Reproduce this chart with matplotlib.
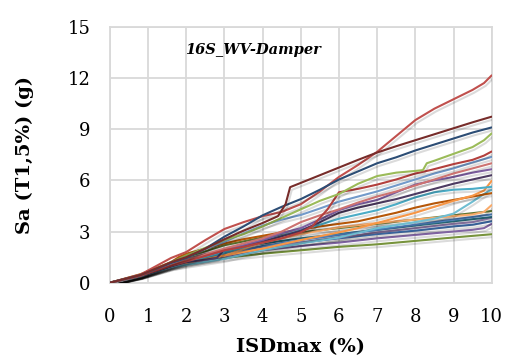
import matplotlib
matplotlib.use("Agg")
import matplotlib.pyplot as plt
import matplotlib.patheffects as pe

# ---- data ----
x_red = [0, 0.8, 1.6, 2.0, 2.5, 3.0, 3.5, 4.0, 4.5, 5.0, 5.5, 6.0, 6.5, 7.0, 7.5, 8.0, 8.5, 9.0, 9.5, 9.8, 10.0]
y_red = [0, 0.48, 1.45, 1.8, 2.5, 3.15, 3.55, 3.9, 4.15, 4.6, 5.35, 6.2, 6.9, 7.67, 8.6, 9.53, 10.2, 10.75, 11.3, 11.7, 12.15]

x_maroon = [0, 0.8, 1.6, 2.0, 2.5, 3.0, 3.5, 4.0, 4.4, 4.6, 4.72, 5.0, 5.5, 6.0, 6.5, 7.0, 7.5, 8.0, 8.5, 9.0, 9.5, 10.0]
y_maroon = [0, 0.45, 1.2, 1.5, 2.0, 2.55, 3.05, 3.5, 3.9, 4.6, 5.6, 5.85, 6.3, 6.75, 7.2, 7.63, 8.0, 8.35, 8.7, 9.05, 9.4, 9.73]

x_dkblue = [0, 0.8, 1.6, 2.0, 2.5, 3.0, 3.5, 4.0, 4.5, 5.0, 5.5, 6.0, 7.0, 7.5, 8.0, 8.5, 9.0, 9.5, 10.0]
y_dkblue = [0, 0.45, 1.15, 1.45, 2.0, 2.7, 3.3, 3.95, 4.45, 4.9, 5.45, 6.05, 7.0, 7.35, 7.75, 8.1, 8.45, 8.8, 9.1]

x_ltgreen = [0, 0.8, 1.6, 2.0, 2.5, 3.0, 3.5, 4.0, 4.5, 5.0, 5.5, 6.0, 6.5, 7.0, 7.5, 8.0, 8.2, 8.3, 8.5, 9.0, 9.5, 9.8, 10.0]
y_ltgreen = [0, 0.46, 1.2, 1.6, 2.05, 2.5, 2.85, 3.3, 3.8, 4.3, 4.8, 5.2, 5.8, 6.25, 6.45, 6.55, 6.6, 7.0, 7.15, 7.55, 7.95, 8.35, 8.75]

x_brick = [0, 0.8, 1.6, 2.0, 3.0, 3.5, 4.0, 4.5, 5.0, 5.3, 5.7, 6.0, 6.5, 7.0, 7.5, 8.0, 8.4, 9.0, 9.5, 9.8, 10.0]
y_brick = [0, 0.42, 1.0, 1.25, 1.9, 2.1, 2.35, 2.6, 2.95, 3.3, 4.3, 5.3, 5.5, 5.75, 6.05, 6.4, 6.6, 6.95, 7.2, 7.45, 7.69]

x_ltblue = [0, 0.8, 1.6, 2.0, 3.0, 3.5, 4.0, 4.5, 5.0, 5.5, 6.0, 6.5, 7.0, 7.5, 8.0, 8.5, 9.0, 9.5, 10.0]
y_ltblue = [0, 0.45, 1.15, 1.55, 2.4, 2.9, 3.35, 3.7, 3.97, 4.35, 4.75, 5.05, 5.35, 5.7, 6.05, 6.4, 6.7, 7.05, 7.37]

x_pink = [0, 0.8, 1.6, 2.0, 3.0, 4.0, 4.5, 5.0, 5.5, 6.0, 6.5, 7.0, 7.5, 8.0, 8.5, 9.0, 9.5, 10.0]
y_pink = [0, 0.42, 1.05, 1.35, 2.0, 2.6, 3.0, 3.55, 3.95, 4.3, 4.7, 5.05, 5.35, 5.7, 6.05, 6.4, 6.7, 7.0]

x_purple = [0, 0.8, 1.6, 2.0, 3.0, 4.0, 4.5, 5.0, 5.5, 6.0, 6.5, 7.0, 7.5, 8.0, 8.5, 9.0, 9.5, 10.0]
y_purple = [0, 0.42, 1.0, 1.3, 1.9, 2.5, 2.9, 3.2, 3.7, 4.25, 4.6, 4.85, 5.3, 5.75, 6.0, 6.2, 6.45, 6.65]

x_dkpurple = [0, 0.8, 1.6, 2.0, 2.5, 2.8, 3.0, 3.5, 4.0, 5.0, 5.5, 6.0, 6.5, 7.0, 7.5, 8.0, 8.5, 9.0, 9.5, 10.0]
y_dkpurple = [0, 0.4, 0.95, 1.2, 1.35, 1.45, 1.95, 2.15, 2.4, 3.05, 3.55, 4.1, 4.4, 4.65, 4.9, 5.2, 5.5, 5.8, 6.05, 6.3]

x_aqua = [0, 0.8, 1.6, 2.0, 3.0, 4.0, 5.0, 5.5, 6.0, 6.5, 7.0, 7.5, 8.0, 8.5, 9.0, 9.5, 10.0]
y_aqua = [0, 0.42, 1.0, 1.25, 1.75, 2.4, 3.1, 3.4, 3.75, 4.0, 4.25, 4.6, 5.0, 5.3, 5.45, 5.5, 5.62]

x_orange = [0, 0.8, 1.6, 2.0, 3.0, 4.0, 5.0, 6.0, 6.5, 7.0, 7.5, 8.0, 8.5, 9.0, 9.5, 9.8, 10.0]
y_orange = [0, 0.42, 1.0, 1.2, 1.6, 2.0, 2.5, 2.95, 3.2, 3.5, 3.8, 4.1, 4.45, 4.8, 5.1, 5.4, 5.97]

x_dkorange = [0, 0.8, 1.6, 1.8, 2.0, 2.5, 3.0, 3.5, 4.0, 4.5, 5.0, 5.5, 6.0, 6.5, 7.0, 7.5, 8.0, 8.5, 9.0, 9.5, 10.0]
y_dkorange = [0, 0.5, 1.2, 1.5, 1.7, 2.0, 2.3, 2.55, 2.75, 2.95, 3.1, 3.3, 3.45, 3.6, 3.85, 4.1, 4.4, 4.65, 4.85, 5.05, 5.25]

x_ltaqua = [0, 0.8, 1.6, 2.0, 3.0, 4.0, 5.0, 6.0, 7.0, 8.0, 8.5, 9.0, 9.5, 9.8, 10.0]
y_ltaqua = [0, 0.38, 0.9, 1.05, 1.4, 1.9, 2.3, 2.65, 3.2, 3.55, 3.75, 4.05, 4.75, 5.2, 5.45]

x_ltorange = [0, 0.8, 1.6, 2.0, 3.0, 4.0, 5.0, 6.0, 7.0, 8.0, 9.0, 9.5, 9.8, 10.0]
y_ltorange = [0, 0.4, 0.95, 1.15, 1.6, 2.35, 2.85, 3.25, 3.5, 3.7, 3.9, 4.0, 4.15, 4.55]

x_dkgreen = [0, 0.8, 1.6, 2.0, 3.0, 4.0, 5.0, 6.0, 7.0, 8.0, 9.0, 10.0]
y_dkgreen = [0, 0.45, 1.15, 1.5, 2.2, 2.65, 2.95, 3.2, 3.45, 3.7, 3.95, 4.2]

x_blue = [0, 0.8, 1.6, 2.0, 3.0, 4.0, 5.0, 6.0, 7.0, 8.0, 9.0, 10.0]
y_blue = [0, 0.42, 1.05, 1.3, 1.7, 2.15, 2.5, 2.8, 3.1, 3.4, 3.7, 4.0]

x_dkteal = [0, 0.8, 1.6, 2.0, 3.0, 4.0, 5.0, 6.0, 7.0, 8.0, 9.0, 10.0]
y_dkteal = [0, 0.44, 1.1, 1.4, 1.9, 2.3, 2.6, 2.85, 3.1, 3.35, 3.6, 3.85]

x_ltpurple = [0, 0.8, 1.6, 2.0, 3.0, 4.0, 5.0, 6.0, 7.0, 8.0, 9.0, 9.5, 10.0]
y_ltpurple = [0, 0.4, 0.95, 1.2, 1.6, 2.0, 2.35, 2.65, 2.95, 3.2, 3.45, 3.55, 3.8]

x_blue2 = [0, 0.8, 1.6, 2.0, 3.0, 4.0, 5.0, 6.0, 7.0, 8.0, 9.0, 9.5, 10.0]
y_blue2 = [0, 0.43, 1.05, 1.35, 1.8, 2.1, 2.35, 2.6, 2.85, 3.05, 3.3, 3.4, 3.6]

x_purplelow = [0, 0.8, 1.6, 2.0, 3.0, 4.0, 5.0, 6.0, 7.0, 8.0, 9.0, 9.5, 9.8, 10.0]
y_purplelow = [0, 0.38, 0.9, 1.1, 1.55, 1.9, 2.15, 2.35, 2.6, 2.8, 3.0, 3.1, 3.2, 3.45]

x_greenlow = [0, 0.8, 1.6, 2.0, 3.0, 4.0, 5.0, 6.0, 7.0, 8.0, 9.0, 10.0]
y_greenlow = [0, 0.4, 0.95, 1.15, 1.45, 1.7, 1.9, 2.1, 2.25, 2.45, 2.65, 2.84]

series = [
    (x_greenlow, y_greenlow, "#77933C"),
    (x_purplelow, y_purplelow, "#8064A2"),
    (x_blue2, y_blue2, "#3F6FAE"),
    (x_ltpurple, y_ltpurple, "#9983B5"),
    (x_dkteal, y_dkteal, "#276A7C"),
    (x_blue, y_blue, "#4F81BD"),
    (x_dkgreen, y_dkgreen, "#5F7530"),
    (x_ltorange, y_ltorange, "#F9AB6B"),
    (x_ltaqua, y_ltaqua, "#6FBDD1"),
    (x_dkorange, y_dkorange, "#B65708"),
    (x_orange, y_orange, "#F79646"),
    (x_aqua, y_aqua, "#4BACC6"),
    (x_dkpurple, y_dkpurple, "#4D3B62"),
    (x_purple, y_purple, "#7E5FA2"),
    (x_pink, y_pink, "#CD7371"),
    (x_ltblue, y_ltblue, "#729ACA"),
    (x_brick, y_brick, "#B3403D"),
    (x_ltgreen, y_ltgreen, "#9BBB59"),
    (x_red, y_red, "#C0504D"),
    (x_dkblue, y_dkblue, "#2C4D75"),
    (x_maroon, y_maroon, "#772C2A"),
]

x_ticks = [0, 1, 2, 3, 4, 5, 6, 7, 8, 9, 10]
y_ticks = [0, 3, 6, 9, 12, 15]

plt.rcParams['font.family'] = ['DejaVu Serif']

fig = plt.figure(figsize=(5.05, 3.59), dpi=100)
ax = fig.add_axes([0.2178, 0.2125, 0.7558, 0.713])

shadow = [pe.SimpleLineShadow(offset=(1.2, -2.0), shadow_color='black', alpha=0.14, rho=1.0),
          pe.Normal()]
for xs, ys, c in series:
    ax.plot(xs, ys, color=c, lw=1.5, solid_capstyle='round', path_effects=shadow, zorder=3)

ax.set_xlim(0, 10)
ax.set_ylim(0, 15)
ax.set_xticks(x_ticks)
ax.set_yticks(y_ticks)
ax.grid(True, color='#D9D9D9', lw=1.3, zorder=0)
ax.set_axisbelow(True)
for s in ax.spines.values():
    s.set_color('#D9D9D9')
    s.set_linewidth(1.3)
ax.tick_params(length=0, labelsize=13, colors='black')
ax.tick_params(axis='x', pad=18)
ax.tick_params(axis='y', pad=14)

ax.set_xlabel('ISDmax (%)', fontsize=14, fontweight='bold', labelpad=9)
ax.set_ylabel('Sa (T1,5%) (g)', fontsize=14, fontweight='bold', labelpad=24)

ax.text(1.96, 13.63, '16S_WV-Damper', fontsize=10.5, fontweight='bold', fontstyle='italic',
        ha='left', va='center', zorder=5)

fig.savefig('out.png', dpi=100)
